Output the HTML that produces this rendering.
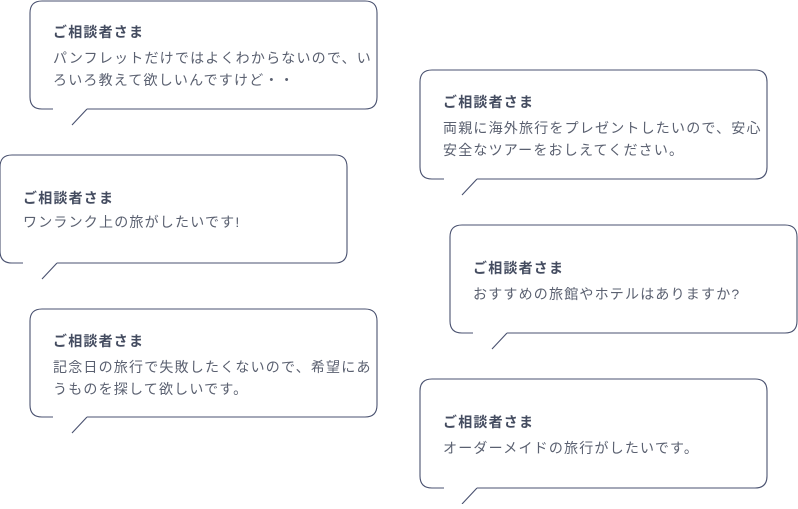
<!DOCTYPE html>
<html><head><meta charset="utf-8"><style>
html,body{margin:0;padding:0;background:#fff;}
body{width:798px;height:504px;overflow:hidden;}
svg text{font-family:"Liberation Sans","Noto Sans CJK JP",sans-serif;letter-spacing:1.2px;}
.t{font-size:14px;fill:#444c60;font-weight:bold;}
.b{font-size:14px;fill:#5a6070;}
path{fill:none;stroke:#4a5270;stroke-width:1.1;}
</style></head><body>
<svg width="798" height="504" xmlns="http://www.w3.org/2000/svg">
<path d="M87,109 L365,109 Q377,109 377,97 L377,13 Q377,1 365,1 L42,1 Q30,1 30,13 L30,97 Q30,109 42,109 L53,109 M87,109 L72,125"/>
<text class="t" x="53" y="37">ご相談者さま</text>
<text class="b" x="53" y="63">パンフレットだけではよくわからないので、い</text>
<text class="b" x="53" y="85">ろいろ教えて欲しいんですけど・・</text>
<path d="M477,179 L755,179 Q767,179 767,167 L767,82 Q767,70 755,70 L432,70 Q420,70 420,82 L420,167 Q420,179 432,179 L444,179 M477,179 L462,195"/>
<text class="t" x="443" y="107">ご相談者さま</text>
<text class="b" x="443" y="133">両親に海外旅行をプレゼントしたいので、安心</text>
<text class="b" x="443" y="155">安全なツアーをおしえてください。</text>
<path d="M57,263 L335,263 Q347,263 347,251 L347,167 Q347,155 335,155 L12,155 Q0,155 0,167 L0,251 Q0,263 12,263 L23,263 M57,263 L42,279"/>
<text class="t" x="23" y="203">ご相談者さま</text>
<text class="b" x="23" y="227">ワンランク上の旅がしたいです!</text>
<path d="M507,333 L785,333 Q797,333 797,321 L797,237 Q797,225 785,225 L462,225 Q450,225 450,237 L450,321 Q450,333 462,333 L473,333 M507,333 L492,349"/>
<text class="t" x="473" y="273">ご相談者さま</text>
<text class="b" x="473" y="299">おすすめの旅館やホテルはありますか?</text>
<path d="M87,417 L365,417 Q377,417 377,405 L377,321 Q377,309 365,309 L42,309 Q30,309 30,321 L30,405 Q30,417 42,417 L53,417 M87,417 L72,433"/>
<text class="t" x="53" y="346">ご相談者さま</text>
<text class="b" x="53" y="372">記念日の旅行で失敗したくないので、希望にあ</text>
<text class="b" x="53" y="394">うものを探して欲しいです。</text>
<path d="M477,488 L755,488 Q767,488 767,476 L767,391 Q767,379 755,379 L432,379 Q420,379 420,391 L420,476 Q420,488 432,488 L444,488 M477,488 L462,504"/>
<text class="t" x="443" y="427">ご相談者さま</text>
<text class="b" x="443" y="453">オーダーメイドの旅行がしたいです。</text>
</svg>
</body></html>
